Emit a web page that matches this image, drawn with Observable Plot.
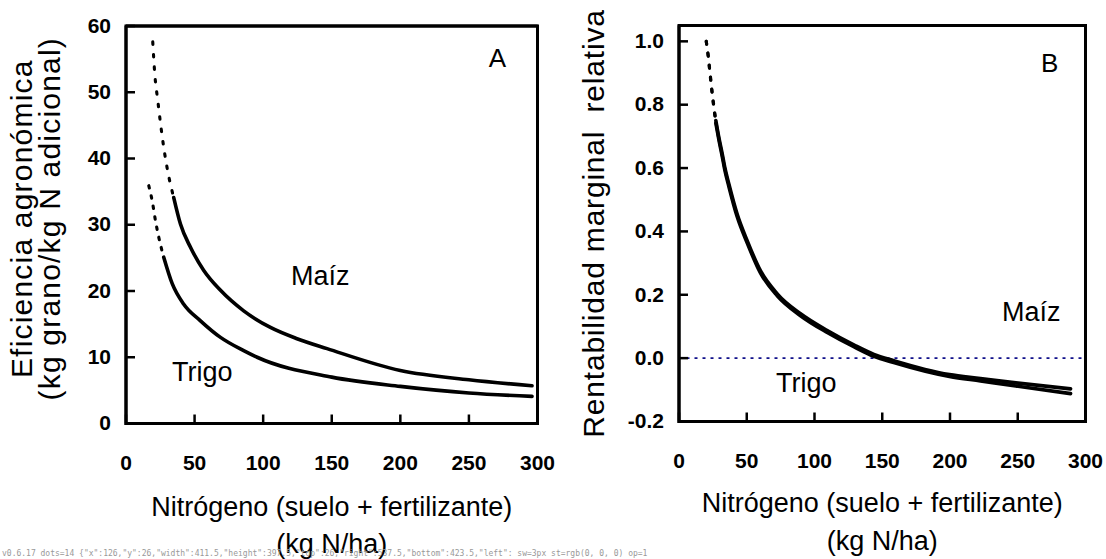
<!DOCTYPE html>
<html>
<head>
<meta charset="utf-8">
<script src="https://cdn.jsdelivr.net/npm/d3@7"></script>
<script src="https://cdn.jsdelivr.net/npm/@observablehq/plot@0.6"></script>
<style>
  body { margin: 0; background: #fff; }
  #wrap { position: relative; width: 1106px; height: 559px; overflow: hidden; background: #fff; }
  #wrap > svg { position: absolute; top: 0; }
  #dbg { position: absolute; left: 2px; bottom: 1px; font: 8px monospace; color: #999; white-space: pre; z-index: 5; }
</style>
</head>
<body>
<div id="wrap"></div>
<script>
// ---- Tick values ----
const nTicks = [0, 50, 100, 150, 200, 250, 300];
const eaTicks = [0, 10, 20, 30, 40, 50, 60];
const rmrTicks = [-0.2, 0, 0.2, 0.4, 0.6, 0.8, 1.0];

// ---- Panel A: Eficiencia agronómica ----
const maizN_A  = [19.5, 21, 23.2, 25.1, 28, 30.5, 34.8, 39.7, 47, 56.7, 68.9, 85.8, 105.3, 124.7, 146.6, 200, 250, 296];
const maizEA   = [57.6, 52.7, 48.7, 45.4, 41, 38, 34.1, 30.1, 26.6, 23.1, 20.1, 17, 14.5, 12.8, 11.3, 8.0, 6.6, 5.7];
const trigoN_A = [16.6, 19.1, 21.5, 23.9, 27.5, 33.7, 42.1, 54.3, 68.9, 85.8, 95.6, 150, 200, 250, 296];
const trigoEA  = [35.9, 33.6, 30.6, 28.1, 25.1, 21.1, 18, 15.5, 13, 11, 10, 7, 5.6, 4.6, 4.1];

// ---- Panel B: Rentabilidad marginal relativa ----
const maizN_B  = [20.1, 21.5, 22.7, 24.5, 25.7, 27.2, 29.4, 31.9, 33.8, 36.8, 42.9, 50.3, 60.1, 72.5, 89.7, 109.4, 129, 143.8, 158.5, 199.6, 222.5, 248.6, 289];
const maizRMR  = [1.0, 0.957, 0.91, 0.839, 0.797, 0.75, 0.697, 0.645, 0.602, 0.55, 0.455, 0.371, 0.276, 0.203, 0.14, 0.087, 0.042, 0.012, -0.008, -0.052, -0.064, -0.078, -0.097];
const trigoN_B = [20.1, 21.5, 22.7, 24.5, 25.7, 27.2, 29.4, 31.9, 33.8, 36.8, 42.9, 50.3, 60.1, 72.5, 89.7, 109.4, 129, 143.8, 158.5, 199.6, 222.5, 248.6, 289];
const trigoRMR = [1.0, 0.955, 0.905, 0.833, 0.79, 0.742, 0.69, 0.637, 0.594, 0.542, 0.447, 0.364, 0.269, 0.197, 0.134, 0.081, 0.036, 0.006, -0.014, -0.058, -0.072, -0.088, -0.112];

const FONT = "Arial, 'Liberation Sans', Helvetica, sans-serif";
const toRows = (xs, ys) => xs.map((x, i) => ({x, y: ys[i]}));

// custom symbols for inward tick marks (drawn as dot marks on the frame edge)
const tickUp = {draw(ctx) { ctx.moveTo(0, 0); ctx.lineTo(0, -9); }};
const tickRight = {draw(ctx) { ctx.moveTo(0, 0); ctx.lineTo(9, 0); }};

function curveMarks(rows, dotLimit, dash, width) {
  return [
    Plot.line(rows.filter(d => d.x <= dotLimit), {x: "x", y: "y", stroke: "black", strokeWidth: width - 0.5, strokeDasharray: dash, curve: "monotone-x"}),
    Plot.line(rows.filter(d => d.x >= dotLimit), {x: "x", y: "y", stroke: "black", strokeWidth: width, curve: "monotone-x"})
  ];
}

function frameMarks(yTicks, yDomain, yFmt) {
  const [y0, y1] = yDomain;
  const box = [{x: 0, y: y0}, {x: 300, y: y0}, {x: 300, y: y1}, {x: 0, y: y1}, {x: 0, y: y0}];
  return [
    // frame outline as a path through the domain corners
    Plot.line(box, {x: "x", y: "y", stroke: "black", strokeWidth: 3, strokeLinejoin: "miter", strokeLinecap: "square"}),
    // inward ticks as custom-symbol dots on the bottom and left edges
    Plot.dot(nTicks, {x: d => d, y: () => y0, symbol: tickUp, stroke: "black", strokeWidth: 2.5, fill: "none", r: 5}),
    Plot.dot(yTicks, {y: d => d, x: () => 0, symbol: tickRight, stroke: "black", strokeWidth: 2.5, fill: "none", r: 5}),
    // tick labels
    Plot.axisX({ticks: nTicks, tickSize: 0, tickPadding: 32, fontSize: 21, fontWeight: "bold", label: null}),
    Plot.axisY({ticks: yTicks, tickSize: 0, tickPadding: 15, tickFormat: yFmt, fontSize: 21, fontWeight: "bold", label: null}),
    Plot.frame({stroke: "black", strokeWidth: 3})
  ];
}

function titleMarks(yTitle, yTitleDx, yTitleDy, yTitleLH, yTitleSize, xTitleDy) {
  return [
    Plot.text(["Nitrógeno (suelo + fertilizante)\n(kg N/ha)"], {text: d => d, frameAnchor: "bottom", dy: xTitleDy, lineAnchor: "middle", textAnchor: "middle", lineHeight: 1.38, fontSize: 27, fill: "black"}),
    Plot.text([yTitle], {text: d => d, frameAnchor: "left", rotate: -90, dx: yTitleDx, dy: yTitleDy, lineAnchor: "middle", textAnchor: "middle", lineHeight: yTitleLH, fontSize: yTitleSize, fill: "black"})
  ];
}

const rowsMaizA = toRows(maizN_A, maizEA);
const rowsTrigoA = toRows(trigoN_A, trigoEA);
const rowsMaizB = toRows(maizN_B, maizRMR);
const rowsTrigoB = toRows(trigoN_B, trigoRMR);

const plotA = Plot.plot({
  width: 560, height: 559,
  marginLeft: 125.5, marginRight: 23, marginTop: 25.5, marginBottom: 136,
  style: {fontFamily: FONT, color: "black", background: "white", overflow: "visible"},
  x: {domain: [0, 300], axis: null},
  y: {domain: [0, 60], axis: null},
  marks: [
    ...curveMarks(rowsMaizA, 34.8, "2.5 10", 3.6),
    ...curveMarks(rowsTrigoA, 27.5, "2.5 8", 3.6),
    ...frameMarks(eaTicks, [0, 60], d => d),
    Plot.text(["A"], {x: 270.7, y: 55, text: d => d, fontSize: 26, fill: "black"}),
    Plot.text(["Maíz"], {x: 141.7, y: 22.2, text: d => d, fontSize: 27, fill: "black"}),
    Plot.text(["Trigo"], {x: 55.6, y: 7.7, text: d => d, fontSize: 27, fill: "black"}),
    ...titleMarks("Eficiencia agronómica\n(kg grano/kg N adicional)", -89, -6, 0.93, 30, 99)
  ]
});

const plotB = Plot.plot({
  width: 546, height: 559,
  marginLeft: 118.5, marginRight: 21, marginTop: 25, marginBottom: 138,
  style: {fontFamily: FONT, color: "black", background: "white", overflow: "visible"},
  x: {domain: [0, 300], axis: null},
  y: {domain: [-0.2, 1.05], axis: null},
  marks: [
    Plot.ruleY([0], {stroke: "#10108a", strokeWidth: 1.8, strokeDasharray: "3 5"}),
    ...curveMarks(rowsTrigoB, 27.2, "3 9", 3.6),
    ...curveMarks(rowsMaizB, 27.2, "3 9", 3.6),
    ...frameMarks(rmrTicks, [-0.2, 1.05], d => d.toFixed(1)),
    Plot.text(["B"], {x: 273.5, y: 0.929, text: d => d, fontSize: 26, fill: "black"}),
    Plot.text(["Maíz"], {x: 260, y: 0.145, text: d => d, fontSize: 27, fill: "black"}),
    Plot.text(["Trigo"], {x: 94, y: -0.079, text: d => d, fontSize: 27, fill: "black"}),
    ...titleMarks("Rentabilidad marginal  relativa", -84.5, 0, 1, 30, 97.5)
  ]
});

for (const [svg, ls] of [[plotA, "1.2"], [plotB, "0.8"]]) {
  for (const t of svg.querySelectorAll("text")) {
    if (/Eficiencia|Rentabilidad/.test(t.textContent)) t.setAttribute("letter-spacing", ls);
  }
}

plotA.style.left = "0px";
plotB.style.left = "560px";
const wrap = document.getElementById("wrap");
wrap.appendChild(plotA);
wrap.appendChild(plotB);

// small diagnostic line in the empty bottom-left corner
try {
  const r = plotA.querySelector('rect[aria-label="frame"]');
  const dots = plotA.querySelectorAll('g[aria-label="dot"] path').length;
  const info = r ? JSON.stringify(r.getBoundingClientRect()).slice(0, 90) + " sw=" + getComputedStyle(r).strokeWidth + " st=" + getComputedStyle(r).stroke + " op=" + getComputedStyle(r).opacity : "no rect";
  const d = document.createElement("div");
  d.id = "dbg";
  d.textContent = "v" + Plot.version + " dots=" + dots + " " + info;
  wrap.appendChild(d);
} catch (e) {}
</script>
</body>
</html>
